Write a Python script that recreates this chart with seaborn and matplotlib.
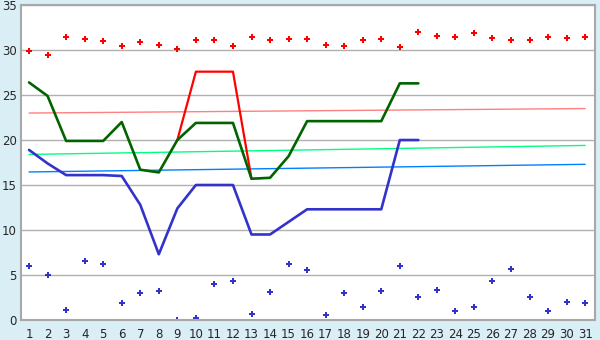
import numpy as np
import pandas as pd
import matplotlib
matplotlib.use("Agg")
import matplotlib.pyplot as plt
import seaborn as sns

# ─────────────────────────────────────────
# DATA
# ─────────────────────────────────────────
days = list(range(1, 32))

max_points = [29.9, 29.4, 31.4, 31.2, 31.0, 30.5, 30.9, 30.6, 30.1, 31.1,
              31.1, 30.4, 31.5, 31.1, 31.2, 31.2, 30.6, 30.4, 31.1, 31.2,
              30.3, 32.0, 31.6, 31.5, 31.9, 31.3, 31.1, 31.1, 31.4, 31.3, 31.5]

min_points = [6.0, 5.0, 1.1, 6.5, 6.2, 1.9, 3.0, 3.2, 0.0, 0.2,
              4.0, 4.3, 0.7, 3.1, 6.2, 5.5, 0.5, 3.0, 1.4, 3.2,
              6.0, 2.5, 3.3, 1.0, 1.4, 4.3, 5.7, 2.5, 1.0, 2.0, 1.9]

line_days = list(range(1, 23))
green_line = [26.4, 24.9, 19.9, 19.9, 19.9, 22.0, 16.7, 16.4, 20.0, 21.9,
              21.9, 21.9, 15.7, 15.8, 18.2, 22.1, 22.1, 22.1, 22.1, 22.1,
              26.3, 26.3]
blue_line = [18.9, 17.4, 16.1, 16.1, 16.1, 16.0, 12.8, 7.3, 12.4, 15.0,
             15.0, 15.0, 9.5, 9.5, 10.9, 12.3, 12.3, 12.3, 12.3, 12.3,
             20.0, 20.0]

red_days = [9, 10, 11, 12, 13]
red_line = [20.0, 27.6, 27.6, 27.6, 15.7]

trend_days = [1, 31]
trend_pink = [23.0, 23.5]
trend_green = [18.4, 19.4]
trend_blue = [16.45, 17.3]

# ─────────────────────────────────────────
# PLOT
# ─────────────────────────────────────────
sns.set_style("white")
plt.rcParams['font.family'] = ['DejaVu Sans']

fig = plt.figure(figsize=(6, 3.4), dpi=100, facecolor='#DAEEF5')
ax = fig.add_axes([0.0345, 0.059, 0.9575, 0.926])
ax.set_facecolor('white')

# trend lines
sns.lineplot(x=trend_days, y=trend_pink, color='#FF8080', linewidth=1, ax=ax)
sns.lineplot(x=trend_days, y=trend_green, color='#00FF80', linewidth=1, ax=ax)
sns.lineplot(x=trend_days, y=trend_blue, color='#0080FF', linewidth=1, ax=ax)

# main lines
sns.lineplot(x=red_days, y=red_line, color='#FF0000', linewidth=1.6, ax=ax)
sns.lineplot(x=line_days, y=green_line, color='#006400', linewidth=1.9, ax=ax)
sns.lineplot(x=line_days, y=blue_line, color='#3333CC', linewidth=1.9, ax=ax)

# points
sns.scatterplot(x=days, y=max_points, color='#FF0000', marker='P', s=24,
                linewidth=0, ax=ax)
sns.scatterplot(x=days, y=min_points, color='#3333CC', marker='P', s=24,
                linewidth=0, ax=ax)

ax.set_xlim(0.55, 31.54)
ax.set_ylim(0, 35)
ax.set_xticks(days)
ax.set_yticks(range(0, 36, 5))
ax.yaxis.grid(True, color='#B0B0B0', linewidth=1.0)
ax.set_axisbelow(True)
for s in ax.spines.values():
    s.set_color('#A8A8A8')
    s.set_linewidth(1.5)
ax.tick_params(axis='both', direction='out', width=1,
               color='#606060', labelsize=8.5)
ax.tick_params(axis='y', length=2.5, pad=0.5)
ax.tick_params(axis='x', length=4, pad=2)
ax.set_xlabel('')
ax.set_ylabel('')

fig.savefig('out.png', dpi=100, facecolor=fig.get_facecolor())
